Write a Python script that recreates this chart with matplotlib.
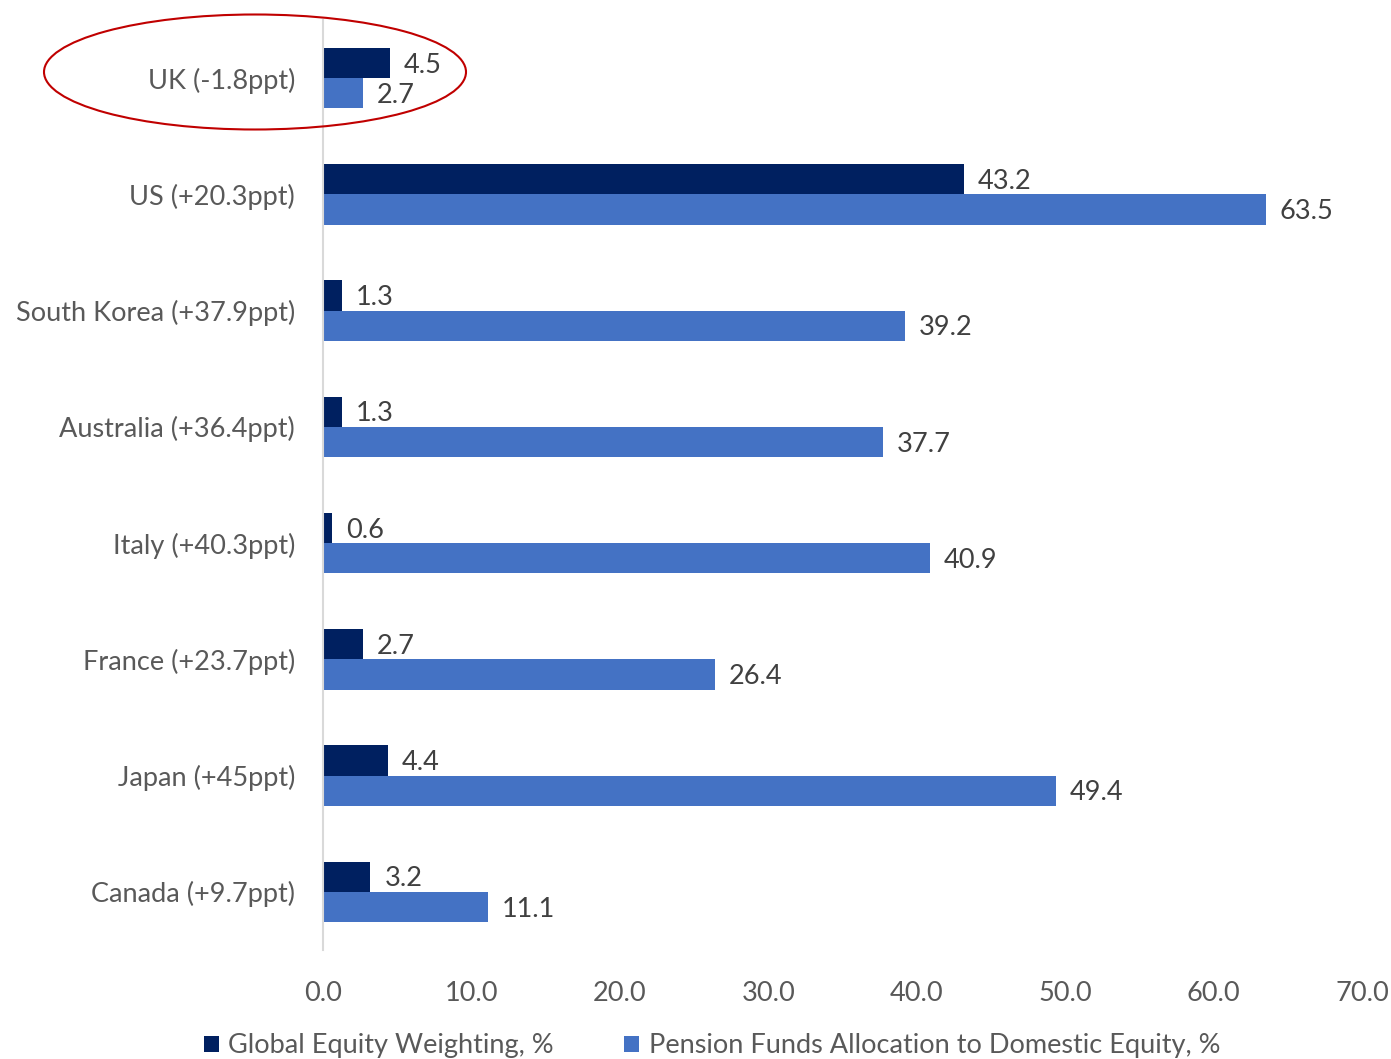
import matplotlib.pyplot as plt
import numpy as np
from matplotlib.patches import Ellipse

plt.rcParams['font.family'] = ['Lato', 'DejaVu Sans']

countries = ['UK (-1.8ppt)', 'US (+20.3ppt)', 'South Korea (+37.9ppt)', 'Australia (+36.4ppt)',
             'Italy (+40.3ppt)', 'France (+23.7ppt)', 'Japan (+45ppt)', 'Canada (+9.7ppt)']
global_weight = [4.5, 43.2, 1.3, 1.3, 0.6, 2.7, 4.4, 3.2]
pension_alloc = [2.7, 63.5, 39.2, 37.7, 40.9, 26.4, 49.4, 11.1]

dark = '#002060'
light = '#4472C4'
grey = '#595959'
fs = 19.5

fig = plt.figure(figsize=(13.91, 10.59), dpi=100)
ax = fig.add_axes([323 / 1391, 1 - 950 / 1059, (1362 - 323) / 1391, 930 / 1059])

y = np.arange(len(countries))
h = 0.26
ax.barh(y - h / 2, global_weight, height=h, color=dark, label='Global Equity Weighting, %')
ax.barh(y + h / 2, pension_alloc, height=h, color=light,
        label='Pension Funds Allocation to Domestic Equity, %')

# data labels just right of each bar
for yi, v in zip(y, global_weight):
    ax.annotate(f'{v:.1f}', (v, yi - h / 2), xytext=(10, -1.5), textcoords='offset points',
                va='center', ha='left', fontsize=fs, color='#404040')
for yi, v in zip(y, pension_alloc):
    ax.annotate(f'{v:.1f}', (v, yi + h / 2), xytext=(10, -1.5), textcoords='offset points',
                va='center', ha='left', fontsize=fs, color='#404040')

ax.set_xlim(0, 70)
ax.set_ylim(len(countries) - 0.5, -0.5)
ax.set_xticks(np.arange(0, 71, 10))
ax.set_xticklabels([f'{t:.1f}' for t in np.arange(0, 71, 10)])
ax.set_yticks(y)
ax.set_yticklabels(countries)
ax.tick_params(axis='both', length=0, labelsize=fs, colors=grey)
ax.tick_params(axis='x', pad=22)
ax.tick_params(axis='y', pad=20)
for s in ['top', 'right', 'bottom']:
    ax.spines[s].set_visible(False)
ax.spines['left'].set_color('#D9D9D9')
ax.spines['left'].set_linewidth(1.5)

ax.legend(loc='center', bbox_to_anchor=((712 - 323) / 1039, -(1046 - 950) / 930), ncol=2,
          frameon=False, fontsize=fs, handlelength=0.55, handleheight=0.55,
          handletextpad=0.35, columnspacing=2.6, labelcolor=grey)

# red ring around the UK row
fig.add_artist(Ellipse((255 / 1391, 1 - 72 / 1059), 422 / 1391, 115 / 1059,
                       transform=fig.transFigure, fill=False, edgecolor='#C00000', lw=1.5))

fig.savefig('out.png', dpi=100)
